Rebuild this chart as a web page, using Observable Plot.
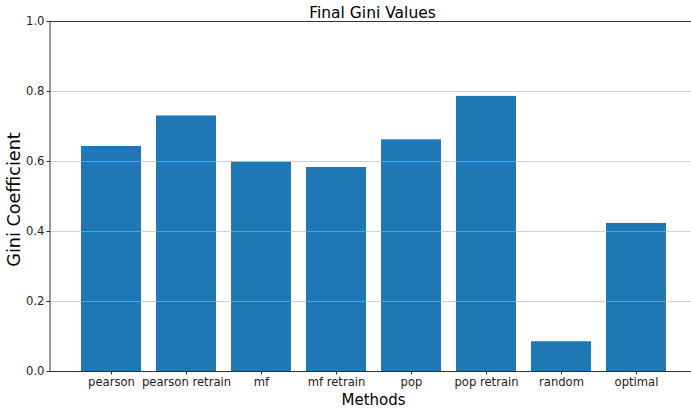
<!DOCTYPE html>
<html>
<head>
<meta charset="utf-8">
<script src="https://cdn.jsdelivr.net/npm/d3@7"></script>
<script src="https://cdn.jsdelivr.net/npm/@observablehq/plot@0.6"></script>
<style>
  html, body { margin: 0; padding: 0; background: white; overflow: hidden; }
</style>
</head>
<body>
<div id="chart"></div>
<script>
const methods = ["pearson", "pearson retrain", "mf", "mf retrain", "pop", "pop retrain", "random", "optimal"];
const gini = [0.643, 0.730, 0.598, 0.583, 0.662, 0.786, 0.085, 0.423];
const yTicks = [0.0, 0.2, 0.4, 0.6, 0.8, 1.0];
const gridTicks = [0.2, 0.4, 0.6, 0.8];
const titleText = "Final Gini Values";
const xLabel = "Methods";
const yLabel = "Gini Coefficient";

const data = methods.map((m, i) => ({method: m, gini: gini[i]}));

const chart = Plot.plot({
  width: 691,
  height: 413,
  marginLeft: 50,
  marginRight: 0,
  marginTop: 21,
  marginBottom: 42,
  style: {fontFamily: "DejaVu Sans", fontSize: "11.6px", color: "#222", background: "white"},
  x: {domain: methods, range: [50, 696], paddingInner: 0.2, paddingOuter: 0.4, align: 0.5},
  y: {domain: [0, 1]},
  marks: [
    Plot.barY(data, {x: "method", y: "gini", fill: "#1f77b4"}),
    Plot.gridY(gridTicks, {stroke: "#b0b0b0", strokeOpacity: 0.6, strokeWidth: 1}),
    Plot.ruleY([0, 1], {stroke: "#333", strokeWidth: 1}),
    Plot.axisY(yTicks, {tickFormat: d => d.toFixed(1), tickSize: 3.5, tickPadding: 2.5, label: null, stroke: "#333", fill: "#222"}),
    Plot.axisX({tickSize: 3.5, tickPadding: 3, label: null, stroke: "#333", fill: "#222"}),
    Plot.text([titleText], {frameAnchor: "top", dx: 1.5, dy: -4, lineAnchor: "bottom", fontSize: 15.5, fill: "#000"}),
    Plot.text([xLabel], {frameAnchor: "bottom", dx: 2.5, dy: 33, lineAnchor: "bottom", fontSize: 15, fill: "#000"}),
    Plot.text([yLabel], {frameAnchor: "left", dx: -36.6, dy: 3, rotate: -90, lineAnchor: "middle", textAnchor: "middle", fontSize: 17.6, fill: "#000"})
  ]
});

// left spine
d3.select(chart).append("line")
  .attr("x1", 50).attr("x2", 50).attr("y1", 21).attr("y2", 371)
  .attr("stroke", "#333").attr("stroke-width", 1);

document.getElementById("chart").appendChild(chart);
</script>
</body>
</html>
